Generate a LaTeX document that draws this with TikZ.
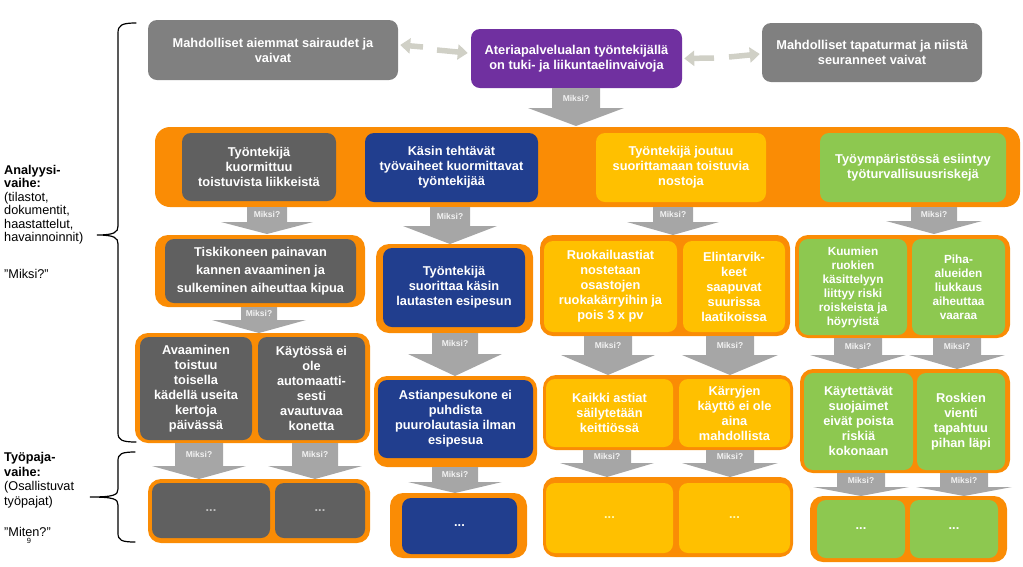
\documentclass[tikz,border=0pt]{standalone}
\usepackage{fontspec}
\setmainfont{Liberation Sans}
\usetikzlibrary{arrows.meta}
\definecolor{orng}{RGB}{250,140,5}
\definecolor{topgray}{RGB}{128,128,128}
\definecolor{dgray}{RGB}{96,96,96}
\definecolor{purp}{RGB}{112,48,160}
\definecolor{navy}{RGB}{33,62,142}
\definecolor{yel}{RGB}{255,192,0}
\definecolor{grn}{RGB}{141,200,80}
\definecolor{arrg}{RGB}{166,166,166}
\definecolor{larrc}{RGB}{208,208,198}
\definecolor{mtxt}{RGB}{242,242,242}
\newcommand\miksiarr[7]{%
  \fill[arrg] ({#2-#6},#3) -- ({#2+#6},#3) -- ({#2+#6},#4) -- ({#2+#7},#4) -- (#2,#5) -- ({#2-#7},#4) -- ({#2-#6},#4) -- cycle;
  \node[miksitxt] (#1) at (#2,{(#3+#4)/2}) {Miksi?};}
\tikzset{
  box/.style={rectangle, rounded corners=9pt, align=center, text=white, font=\bfseries\fontsize{12.8}{15}\selectfont, inner sep=0pt},
  smallbox/.style={box, font=\bfseries\fontsize{11.8}{14}\selectfont},
  cont/.style={rectangle, rounded corners=13pt, fill=orng, inner sep=0pt},
  miksitxt/.style={font=\bfseries\fontsize{8.5}{9}\selectfont, text=mtxt, inner sep=0pt},
  larr/.style={draw=larrc, line width=5.5pt, -{Triangle[width=15pt,length=10pt]}},
  bracel/.style={line width=1.2pt, line cap=round},
  side/.style={align=left, inner sep=0pt, anchor=north west, font=\fontsize{12.7}{13.4}\selectfont}
}
\begin{document}
\begin{tikzpicture}[x=1pt,y=-1pt]
\useasboundingbox (0,0) rectangle (1023,566);

% top row
\node[box, fill=topgray, minimum width=250, minimum height=60] (lgray) at (273,50) {Mahdolliset aiemmat sairaudet ja\\vaivat};
\node[box, fill=purp, minimum width=211, minimum height=59] (purple) at (576.5,58.5) {Ateriapalvelualan työntekijällä\\on tuki- ja liikuntaelinvaivoja};
\node[box, fill=topgray, minimum width=220, minimum height=59] (rgray) at (872,52.5) {Mahdolliset tapaturmat ja niistä\\seuranneet vaivat};

\coordinate (la1) at (423,47);
\coordinate (la2) at (437,50);
\coordinate (la3) at (714,58);
\coordinate (la4) at (729,57);
\draw[larr] (la1) -- ([shift={(2,-5)}]lgray.east);
\draw[larr] (la2) -- ([shift={(-3,-5.5)}]purple.west);
\draw[larr] (la3) -- ([shift={(2,0)}]purple.east);
\draw[larr] (la4) -- ([shift={(-2,1.5)}]rgray.west);

\miksiarr{m0}{576}{88}{108}{126}{24}{48}

% band
\node[cont, rounded corners=15pt, minimum width=865, minimum height=80] (band) at (587.5,167) {};
\node[box, fill=dgray, minimum width=154, minimum height=68] (b1) at (259,167) {Työntekijä\\kuormittuu\\toistuvista liikkeistä};
\node[box, fill=navy, minimum width=173, minimum height=69] (b2) at (451.5,167.5) {Käsin tehtävät\\työvaiheet kuormittavat\\työntekijää};
\node[box, fill=yel, minimum width=170, minimum height=69] (b3) at (681,167.5) {Työntekijä joutuu\\suorittamaan toistuvia\\nostoja};
\node[box, fill=grn, minimum width=186, minimum height=69] (b4) at (913,167.5) {Työympäristössä esiintyy\\työturvallisuusriskejä};

% row 2
\node[cont, minimum width=210, minimum height=72] (c21) at (260,271) {};
\node[box, fill=dgray, minimum width=191, minimum height=64, font=\bfseries\fontsize{12.8}{18}\selectfont] (r21) at (260.5,271) {Tiskikoneen painavan\\kannen avaaminen ja\\sulkeminen aiheuttaa kipua};
\node[cont, minimum width=157, minimum height=89] (c22) at (454.5,288.5) {};
\node[box, fill=navy, minimum width=142, minimum height=79] (r22) at (454,287.5) {Työntekijä\\suorittaa käsin\\lautasten esipesun};
\node[cont, minimum width=250, minimum height=101] (c23) at (665,285.5) {};
\node[box, fill=yel, minimum width=133, minimum height=91] (r23a) at (610.5,286.5) {Ruokailuastiat\\nostetaan\\osastojen\\ruokakärryihin ja\\pois 3 x pv};
\node[box, fill=yel, minimum width=102, minimum height=91] (r23b) at (734,286.5) {Elintarvik-\\keet\\saapuvat\\suurissa\\laatikoissa};
\node[cont, minimum width=215, minimum height=103] (c24) at (902.5,286.5) {};
\node[smallbox, fill=grn, minimum width=108, minimum height=96] (r24a) at (853,287) {Kuumien\\ruokien\\käsittelyyn\\liittyy riski\\roiskeista ja\\höyryistä};
\node[smallbox, fill=grn, minimum width=93, minimum height=96] (r24b) at (958.5,287) {Piha-\\alueiden\\liukkaus\\aiheuttaa\\vaaraa};

\miksiarr{m11}{267}{207}{222}{234}{20}{46}
\miksiarr{m12}{450}{207}{226}{244}{20}{47}
\miksiarr{m13}{673}{207}{222}{235}{20}{46}
\miksiarr{m14}{934}{207}{221}{234}{23}{48}

% row 3
\node[cont, minimum width=235, minimum height=110] (c31) at (252.5,388) {};
\node[box, fill=dgray, minimum width=112, minimum height=103] (r31a) at (196,388.5) {Avaaminen\\toistuu\\toisella\\kädellä useita\\kertoja\\päivässä};
\node[box, fill=dgray, minimum width=107, minimum height=103] (r31b) at (311.5,388.5) {Käytössä ei\\ole\\automaatti-\\sesti\\avautuvaa\\konetta};
\node[cont, minimum width=163, minimum height=91] (c32) at (455.5,421.5) {};
\node[box, fill=navy, minimum width=155, minimum height=78] (r32) at (455.5,419) {Astianpesukone ei\\puhdista\\puurolautasia ilman\\esipesua};
\node[cont, minimum width=250, minimum height=75] (c33) at (668,412.5) {};
\node[box, fill=yel, minimum width=127, minimum height=68] (r33a) at (609.5,413) {Kaikki astiat\\säilytetään\\keittiössä};
\node[box, fill=yel, minimum width=111, minimum height=68] (r33b) at (734.5,413) {Kärryjen\\käyttö ei ole\\aina\\mahdollista};
\node[cont, minimum width=210, minimum height=104] (c34) at (905,421) {};
\node[box, fill=grn, minimum width=109, minimum height=97] (r34a) at (858.5,421.5) {Käytettävät\\suojaimet\\eivät poista\\riskiä\\kokonaan};
\node[box, fill=grn, minimum width=88, minimum height=97] (r34b) at (961,421.5) {Roskien\\vienti\\tapahtuu\\pihan läpi};

\miksiarr{m21}{259}{307}{320}{333}{18}{47}
\miksiarr{m22}{455}{333}{354}{376}{23}{47}
\miksiarr{m23}{608}{336}{355}{375}{24}{47}
\miksiarr{m24}{730}{336}{355}{375}{24}{48}
\miksiarr{m25}{858}{338}{355}{369}{24}{48}
\miksiarr{m26}{957}{338}{355}{369}{24}{48}

% row 4
\node[cont, minimum width=222, minimum height=64] (c41) at (259,511) {};
\node[box, fill=dgray, minimum width=118, minimum height=55] (r41a) at (211,510.5) {\textcolor{black!25}{...}};
\node[box, fill=dgray, minimum width=90, minimum height=55] (r41b) at (320,510.5) {\textcolor{black!25}{...}};
\node[cont, minimum width=137, minimum height=65] (c42) at (458.5,525.5) {};
\node[box, fill=navy, minimum width=115, minimum height=56] (r42) at (459.5,526) {...};
\node[cont, minimum width=250, minimum height=80] (c43) at (668,517) {};
\node[box, fill=yel, minimum width=127, minimum height=70] (r43a) at (609.5,518) {\textcolor{yellow!30}{...}};
\node[box, fill=yel, minimum width=111, minimum height=70] (r43b) at (734.5,518) {\textcolor{yellow!30}{...}};
\node[cont, minimum width=197, minimum height=66] (c44) at (908.5,529) {};
\node[box, fill=grn, minimum width=88, minimum height=58] (r44a) at (861,529) {...};
\node[box, fill=grn, minimum width=88, minimum height=58] (r44b) at (954,529) {...};

\miksiarr{m31}{199}{443}{466}{479}{24}{47}
\miksiarr{m32}{315}{443}{466}{479}{23}{47}
\miksiarr{m33}{455}{467}{482}{493}{23}{47}
\miksiarr{m34}{607}{450}{463}{477}{24}{47}
\miksiarr{m35}{730}{450}{463}{477}{24}{48}
\miksiarr{m36}{861}{473}{487}{496}{24}{48}
\miksiarr{m37}{964}{473}{487}{496}{24}{48}

% braces
\draw[bracel] (136,23) .. controls (122,23) and (118,25) .. (118,33) -- (118,226) .. controls (118,232) and (115,235) .. (97,235) .. controls (115,235) and (118,238) .. (118,244) -- (118,433) .. controls (118,440) and (122,442) .. (136,442);
\draw[bracel] (135,452) .. controls (121,452) and (118,454) .. (118,461) -- (118,489) .. controls (118,495) and (114,497) .. (90,497) .. controls (114,497) and (118,499) .. (118,505) -- (118,533) .. controls (118,540) and (121,542) .. (135,542);

% side texts
\node[side] (ana) at (4,165) {\textbf{Analyysi-}\\\textbf{vaihe:}\\(tilastot,\\dokumentit,\\haastattelut,\\havainnoinnit)\\[23.5pt]”Miksi?”};
\node[side, font=\fontsize{12.7}{14.7}\selectfont] (tyo) at (4,452) {\textbf{Työpaja-}\\\textbf{vaihe:}\\(Osallistuvat\\työpajat)\\[16pt]”Miten?”};
\node[font=\fontsize{7.5}{8}\selectfont, inner sep=0pt] (num) at (29,541) {9};
\end{tikzpicture}
\end{document}
